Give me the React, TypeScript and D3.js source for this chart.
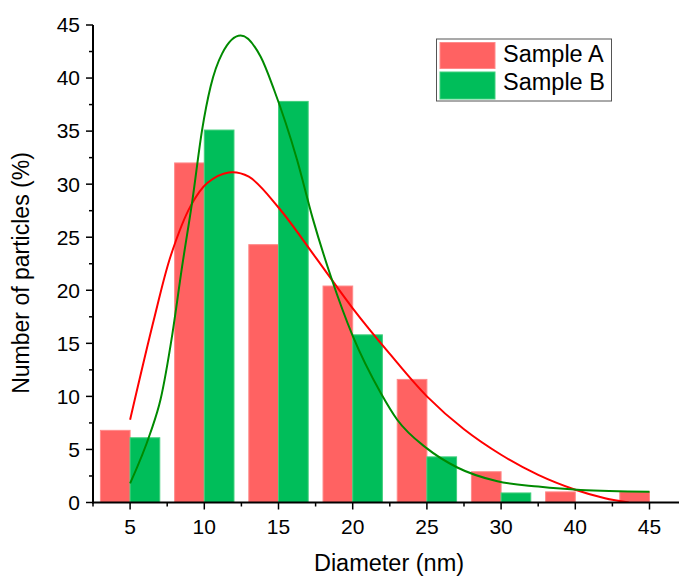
import React from "react";
import * as d3 from "d3";

const categories = ["5", "10", "15", "20", "25", "30", "40", "45"];
const sampleA = [6.8, 32.0, 24.3, 20.4, 11.6, 2.9, 1.0, 1.0];
const sampleB = [6.1, 35.1, 37.8, 15.8, 4.3, 0.9, 0, 0];
const yTicks = [0, 5, 10, 15, 20, 25, 30, 35, 40, 45];

// fitted curves (x in category-index units)
const fitAx = [0, 0.33, 0.55, 0.82, 1.04, 1.33, 1.6, 2.0, 2.5, 3.0, 3.5, 4.0, 4.5, 5.0, 5.5, 6.0, 6.4, 6.72];
const fitAy = [7.8, 17.5, 23.3, 28.0, 30.1, 31.1, 30.7, 27.8, 23.1, 18.3, 14.0, 10.0, 6.9, 4.5, 2.6, 1.2, 0.4, 0.0];
const fitBx = [0, 0.27, 0.41, 0.57, 0.7, 0.84, 0.97, 1.085, 1.24, 1.49, 1.76, 1.94, 2.25, 2.46, 2.71, 3.0, 3.38, 3.6, 4.0, 4.41, 4.95, 5.5, 6.07, 7.0];
const fitBy = [1.8, 6.5, 9.7, 15.9, 22.2, 28.5, 35.1, 39.2, 42.3, 44.0, 42.0, 38.9, 32.3, 26.8, 21.2, 15.7, 10.3, 7.8, 5.1, 3.3, 2.0, 1.5, 1.18, 1.02];

const W = 679, H = 576;
const FONT = "'Liberation Sans', Arial, sans-serif";

export default function App() {
  const x = d3.scaleLinear().domain([-0.5, 7.5]).range([93, 686.6]);
  const y = d3.scaleLinear().domain([0, 45]).range([502.5, 25]);
  const bw = x(0.4) - x(0);
  const lineA = d3.line<[number, number]>().x(d => x(d[0])).y(d => y(d[1])).curve(d3.curveCatmullRom.alpha(0.5));
  const lineB = d3.line<[number, number]>().x(d => x(d[0])).y(d => y(d[1])).curve(d3.curveMonotoneX);
  const pa = fitAx.map((v, i) => [v, fitAy[i]] as [number, number]);
  const pb = fitBx.map((v, i) => [v, fitBy[i]] as [number, number]);
  const minorX = d3.range(-0.5, 7.5, 1);
  const minorY = d3.range(2.5, 45, 5);
  const redFill = "#ff6262", redStroke = "#ff8a8a";
  const grnFill = "#00be5a", grnStroke = "#40cf7c";
  return (
    <svg width={W} height={H} style={{ position: "absolute", left: 0, top: 0, background: "#fff" }} fontFamily={FONT}>
      <rect x={0} y={0} width={W} height={H} fill="#fff" />
      <defs>
        <clipPath id="plot"><rect x={93} y={0} width={W - 93} height={502.5} /></clipPath>
      </defs>
      {categories.map((c, i) => (
        <g key={c}>
          {sampleA[i] > 0 && (
            <rect x={x(i) - bw} y={y(sampleA[i])} width={bw} height={y(0) - y(sampleA[i])} fill={redFill} stroke={redStroke} strokeWidth={1} />
          )}
          {sampleB[i] > 0 && (
            <rect x={x(i)} y={y(sampleB[i])} width={bw} height={y(0) - y(sampleB[i])} fill={grnFill} stroke={grnStroke} strokeWidth={1} />
          )}
        </g>
      ))}
      <g clipPath="url(#plot)">
        <path d={lineA(pa) || ""} fill="none" stroke="#ff0000" strokeWidth={2} />
        <path d={lineB(pb) || ""} fill="none" stroke="#008a00" strokeWidth={2} />
      </g>
      {/* axes */}
      <line x1={93} x2={93} y1={y(45)} y2={y(0) + 1} stroke="#000" strokeWidth={2} />
      <line x1={92} x2={W} y1={y(0)} y2={y(0)} stroke="#000" strokeWidth={2} />
      {yTicks.map(t => (
        <g key={t}>
          <line x1={86} x2={93} y1={y(t)} y2={y(t)} stroke="#000" strokeWidth={1.5} />
          <text x={80} y={y(t)} dy="0.35em" textAnchor="end" fontSize={21}>{t}</text>
        </g>
      ))}
      {minorY.map(t => (
        <line key={t} x1={89} x2={93} y1={y(t)} y2={y(t)} stroke="#000" strokeWidth={1.5} />
      ))}
      {categories.map((c, i) => (
        <g key={c}>
          <line x1={x(i)} x2={x(i)} y1={y(0)} y2={y(0) + 7} stroke="#000" strokeWidth={1.5} />
          <text x={x(i)} y={534} textAnchor="middle" fontSize={21}>{c}</text>
        </g>
      ))}
      {minorX.map(t => (
        <line key={t} x1={x(t)} x2={x(t)} y1={y(0)} y2={y(0) + 4} stroke="#000" strokeWidth={1.5} />
      ))}
      <text x={389} y={571} textAnchor="middle" fontSize={23.5}>Diameter (nm)</text>
      <text transform="translate(29,273) rotate(-90)" textAnchor="middle" fontSize={23}>Number of particles (%)</text>
      {/* legend */}
      <rect x={436.5} y={39} width={175} height={62} fill="#fff" stroke="#555" strokeWidth={1} />
      <rect x={440} y={42.5} width={55} height={26} fill={redFill} stroke={redStroke} />
      <rect x={440} y={72} width={55} height={27} fill={grnFill} stroke={grnStroke} />
      <text x={503} y={62} fontSize={23.5}>Sample A</text>
      <text x={503} y={90} fontSize={23.5}>Sample B</text>
    </svg>
  );
}
